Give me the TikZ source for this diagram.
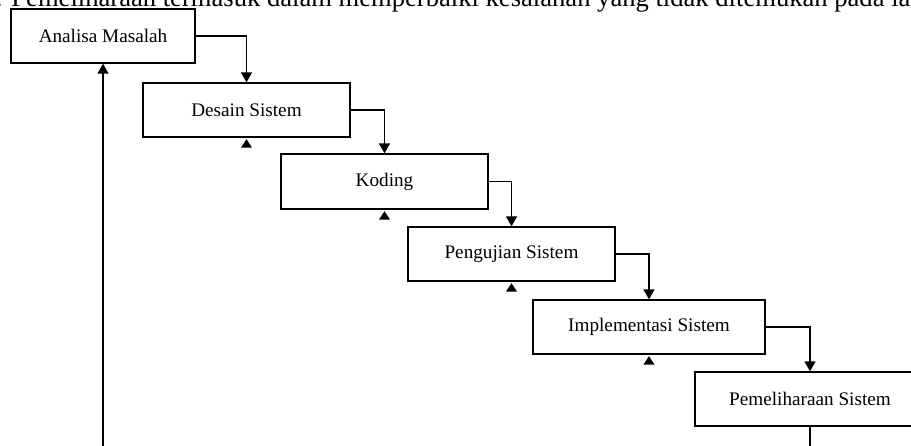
\documentclass[tikz,border=0pt]{standalone}
\usepackage{fontspec}
\setmainfont{Liberation Serif}
\usetikzlibrary{arrows.meta,calc}
\begin{document}
\begin{tikzpicture}[x=1pt,y=-1pt,
  stage/.style={draw=black,line width=1.3pt,minimum height=54pt,inner sep=0pt,
    font=\fontsize{19.2}{23}\selectfont},
  flow/.style={draw=black,line width=1.4pt,-{Triangle[width=11pt,length=10pt]}},
  plain/.style={draw=black,line width=1.4pt},
  backtip/.style={fill=black}
]
\useasboundingbox (0,0) rectangle (911,446);
\clip (0,0) rectangle (911,446);

% running text line above the figure
\node[anchor=base west,inner sep=0pt,font=\fontsize{26.6}{32}\selectfont] (intro) at (-4.3,7)
  {. Pemeliharaan termasuk dalam memperbaiki kesalahan yang tidak ditemukan pada la};

% waterfall stages
\node[stage,minimum width=184pt] (analisa) at (103,36) {Analisa Masalah};
\node[stage,minimum width=207pt] (desain) at (246.5,110) {Desain Sistem};
\node[stage,minimum width=207pt,minimum height=55pt] (koding) at (384.5,181.5) {Koding};
\node[stage,minimum width=207pt] (uji) at (511.5,254) {Pengujian Sistem};
\node[stage,minimum width=232pt] (impl) at (649,327) {Implementasi Sistem};
\node[stage,minimum width=230pt] (pelihara) at (810,399) {Pemeliharaan Sistem};

% forward flow
\draw[flow] (analisa.east) -| (desain.north);
\draw[flow] (desain.east) -| (koding.north);
\draw[flow] (koding.east) -| (uji.north);
\draw[flow] (uji.east) -| (impl.north);
\draw[flow] (impl.east) -| (pelihara.north);

% feedback loop back to the first stage
\coordinate (loopend) at (810,452);
\coordinate (loopstart) at (103,452);
\draw[plain] (pelihara.south) -- (loopend);
\draw[flow] (loopstart) -- (analisa.south);

% small upward tips below the middle stages
\foreach \s in {desain,koding,uji,impl}{
  \fill[backtip] ($(\s.south)+(0,1.5)$) -- ++(5.5,8.5) -- ++(-11,0) -- cycle;
}
\end{tikzpicture}
\end{document}
